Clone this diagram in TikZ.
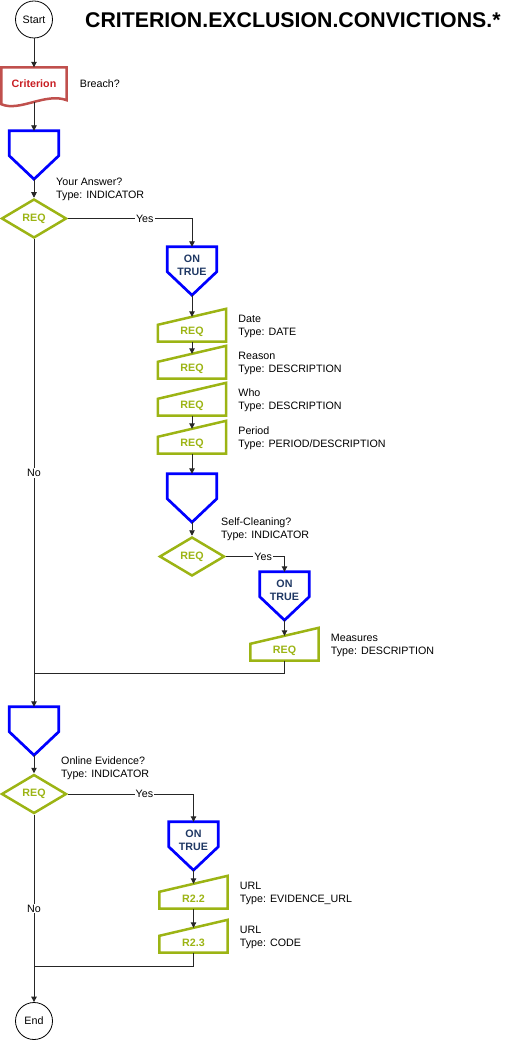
\documentclass[tikz,border=0pt]{standalone}
\usepackage{fontspec}
\setmainfont{Liberation Sans}
\usepackage{xcolor}
\usetikzlibrary{arrows.meta,positioning,shapes.geometric,calc}

\definecolor{offblue}{RGB}{0,0,255}
\definecolor{reqgreen}{RGB}{156,180,20}
\definecolor{critred}{RGB}{192,80,77}
\definecolor{crittext}{RGB}{200,30,35}
\definecolor{navytext}{RGB}{31,56,100}
\newcommand{\bodysize}{\fontsize{10.7}{13}\selectfont}

\begin{document}
\begin{tikzpicture}[x=1pt,y=-1pt,>={Triangle[length=5.5pt,width=5.5pt]},font=\bodysize,
  manin/.style={minimum width=68pt, minimum height=24.5pt, inner sep=0,
    label={[reqgreen, font=\bodysize\bfseries, yshift=-2.75pt]center:#1}}]
\tikzstyle{terminal}=[draw, circle, minimum size=37pt, inner sep=0, line width=0.8pt]
\tikzstyle{critbox}=[minimum width=65pt, minimum height=31.5pt, inner sep=0, text=crittext, font=\bodysize\bfseries]
\tikzstyle{offpage}=[minimum width=49pt, minimum height=48pt, inner sep=0]
\tikzstyle{ontrue}=[offpage, label={[navytext, font=\bodysize\bfseries, align=center, yshift=6pt]center:ON\\TRUE}]
\tikzstyle{decision}=[diamond, draw=reqgreen, line width=2.5pt, minimum width=65pt, minimum height=39pt, inner sep=0, text=reqgreen, font=\bodysize\bfseries]
\tikzstyle{info}=[align=left, inner sep=0, anchor=west]
\tikzstyle{flow}=[line width=0.9pt, black!85]
\tikzstyle{yeslbl}=[fill=white, inner sep=1pt, text=black]
\tikzstyle{offline}=[draw=offblue, line width=2.7pt]
\tikzstyle{reqline}=[draw=reqgreen, line width=2.5pt]
\useasboundingbox (0,0) rectangle (514,1040);

% head
\node[terminal] (start) at (34,19.5) {Start};
\node[anchor=west, inner sep=0, font=\fontsize{21.3}{24}\selectfont\bfseries] (title) at (85,20.5) {CRITERION.EXCLUSION.CONVICTIONS.*};
\node[critbox] (crit) at (34,83.25) {Criterion};
\node[info, right=13pt of crit] (breach) {Breach?};
\draw[draw=critred, line width=2.5pt] (crit.north west) -- (crit.north east) -- ($(crit.south east)+(0,1)$) .. controls +(-21,-8) and +(18,8) .. ($(crit.south west)+(0,5)$) -- cycle;

% first question
\node[offpage] (pen1) at (34,155) {};
\node[decision] (d1) at (34,218.5) {REQ};
\node[info] (ansl) at (56,189.5) {Your Answer?\\Type: INDICATOR};
\node[ontrue] (ot1) at (192,271) {};
\node[manin=REQ] (q1) at (192,329.25) {};
\node[manin=REQ] (q2) at (192,366.25) {};
\node[manin=REQ] (q3) at (192,403.25) {};
\node[manin=REQ] (q4) at (192,441.25) {};
\node[info, right=12pt of q1, yshift=3pt] (datel) {Date\\Type: DATE};
\node[info, right=12pt of q2, yshift=3pt] (reasonl) {Reason\\Type: DESCRIPTION};
\node[info, right=12pt of q3, yshift=3pt] (whol) {Who\\Type: DESCRIPTION};
\node[info, right=12pt of q4, yshift=3pt] (periodl) {Period\\Type: PERIOD/DESCRIPTION};

% self-cleaning
\node[offpage] (pen2) at (192,498) {};
\node[decision] (d2) at (192,556.5) {REQ};
\node[info] (selfl) at (221,529.5) {Self-Cleaning?\\Type: INDICATOR};
\node[ontrue] (ot2) at (284.5,596) {};
\node[manin=REQ] (q5) at (284.5,648.25) {};
\node[info, right=12pt of q5, yshift=3pt] (measl) {Measures\\Type: DESCRIPTION};
\coordinate (m1) at (34,673);

% online evidence
\node[offpage] (pen3) at (34,731) {};
\node[decision] (d3) at (34,794) {REQ};
\node[info] (onlinel) at (61,768) {Online Evidence?\\Type: INDICATOR};
\node[ontrue] (ot3) at (193.5,846) {};
\node[manin=R2.2] (r22) at (193.5,896.25) {};
\node[manin=R2.3] (r23) at (193.5,940.25) {};
\node[info, right=12pt of r22, yshift=3pt] (url1l) {URL\\Type: EVIDENCE\_URL};
\node[info, right=12pt of r23, yshift=3pt] (url2l) {URL\\Type: CODE};
\coordinate (m2) at (34,966);
\node[terminal] (finish) at (34,1021) {End};

% outlines
\foreach \n in {pen1,ot1,pen2,ot2,pen3,ot3}
  \draw[offline] (\n.north west) -- (\n.north east) -- ($(\n.north east)+(0,25)$) -- (\n.south) -- ($(\n.north west)+(0,25)$) -- cycle;
\foreach \n in {q1,q2,q3,q4,q5,r22,r23}
  \draw[reqline] (\n.south west) -- (\n.south east) -- ($(\n.north east)+(0,-8)$) -- ($(\n.north west)+(0,8)$) -- cycle;

% connectors
\draw[flow,->] (start) -- (crit);
\draw[flow,->,shorten <=3pt] (crit) -- (pen1);
\draw[flow,->] (pen1.south) -- (d1.north);
\draw[flow,->] (d1.east) -| node[yeslbl, pos=0.31] (yes1) {Yes} (ot1.north);
\draw[flow,->] (ot1.south) -- (q1.north);
\draw[flow,->] (q1.south) -- (q2.north);
\draw[flow,->] (q3.south) -- (q4.north);
\draw[flow,->] (q4.south) -- (pen2.north);
\draw[flow,->] (pen2.south) -- (d2.north);
\draw[flow,->] (d2.east) -| node[yeslbl, pos=0.318] (yes2) {Yes} (ot2.north);
\draw[flow,->] (ot2.south) -- (q5.north);
\draw[flow] (q5.south) |- (m1);
\draw[flow,->] (d1.south) -- node[yeslbl] (no1) {No} (pen3.north);
\draw[flow,->] (pen3.south) -- (d3.north);
\draw[flow,->] (d3.east) -| node[yeslbl, pos=0.305] (yes3) {Yes} (ot3.north);
\draw[flow,->] (ot3.south) -- (r22.north);
\draw[flow,->] (r22.south) -- (r23.north);
\draw[flow] (r23.south) |- (m2);
\draw[flow,->] (d3.south) -- node[yeslbl] (no2) {No} (finish.north);
\end{tikzpicture}
\end{document}
